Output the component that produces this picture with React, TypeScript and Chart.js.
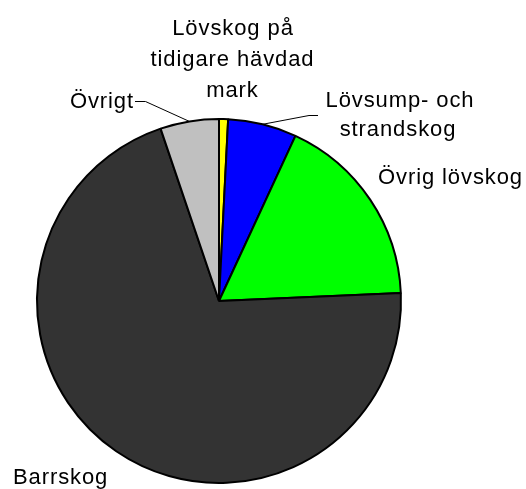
import React, { useEffect, useRef } from "react";
import { Chart, registerables } from "chart.js";

Chart.register(...registerables);

const categories = [
  "Lövskog på tidigare hävdad mark",
  "Lövsump- och strandskog",
  "Övrig lövskog",
  "Barrskog",
  "Övrigt",
];
const values = [0.8, 6.1, 17.4, 70.5, 5.2];
const colors = ["#FFFF00", "#0000FF", "#00FF00", "#333333", "#C0C0C0"];

const FONT = "22px 'Liberation Sans', Arial, sans-serif";

const labelPlugin = {
  id: "pieLabels",
  afterDraw(chart: any) {
    const ctx = chart.ctx as CanvasRenderingContext2D;
    const meta = chart.getDatasetMeta(0);
    const edge = (i: number) => {
      const arc = meta.data[i] as any;
      const { x, y, startAngle, endAngle, outerRadius } = arc.getProps(
        ["x", "y", "startAngle", "endAngle", "outerRadius"],
        true
      );
      const a = (startAngle + endAngle) / 2;
      return { x: x + Math.cos(a) * outerRadius, y: y + Math.sin(a) * outerRadius };
    };
    ctx.save();
    ctx.font = FONT;
    (ctx as any).letterSpacing = "0.9px";
    ctx.fillStyle = "#000";
    ctx.textBaseline = "alphabetic";
    const center = (t: string, cx: number, y: number) => {
      const w = ctx.measureText(t).width;
      ctx.textAlign = "left";
      ctx.fillText(t, cx - w / 2, y);
    };
    // Lövskog på tidigare hävdad mark
    center("Lövskog på", 233, 35);
    center("tidigare hävdad", 232.5, 66);
    center("mark", 232.5, 97);
    // Lövsump- och strandskog
    center("Lövsump- och", 400, 107);
    center("strandskog", 398, 136);
    ctx.textAlign = "left";
    ctx.fillText("Övrig lövskog", 378, 184);
    ctx.fillText("Barrskog", 13, 484);
    const wo = ctx.measureText("Övrigt").width;
    ctx.fillText("Övrigt", 134 - wo, 108);

    ctx.strokeStyle = "#000";
    ctx.lineWidth = 1;
    const p1 = edge(1);
    ctx.beginPath();
    ctx.moveTo(p1.x, p1.y);
    ctx.lineTo(309, 115.5);
    ctx.lineTo(318, 115.5);
    ctx.stroke();
    const p4 = edge(4);
    ctx.beginPath();
    ctx.moveTo(p4.x, p4.y);
    ctx.lineTo(145.5, 101.5);
    ctx.lineTo(135, 101.5);
    ctx.stroke();
    ctx.restore();
  },
};

export default function App() {
  const ref = useRef<HTMLCanvasElement>(null);
  useEffect(() => {
    document.body.style.margin = "0";
    const chart = new Chart(ref.current!, {
      type: "pie",
      data: {
        labels: categories,
        datasets: [
          {
            data: values,
            backgroundColor: colors,
            borderColor: "#000",
            borderWidth: 2,
          },
        ],
      },
      options: {
        responsive: false,
        animation: false,
        radius: 182,
        layout: { padding: { left: 37, right: 125, top: 119, bottom: 6 } },
        plugins: { legend: { display: false }, tooltip: { enabled: false } },
      } as any,
      plugins: [labelPlugin],
    });
    return () => chart.destroy();
  }, []);
  return (
    <div style={{ width: 526, height: 489, background: "#fff" }}>
      <canvas ref={ref} width={526} height={489} style={{ display: "block" }} />
    </div>
  );
}
